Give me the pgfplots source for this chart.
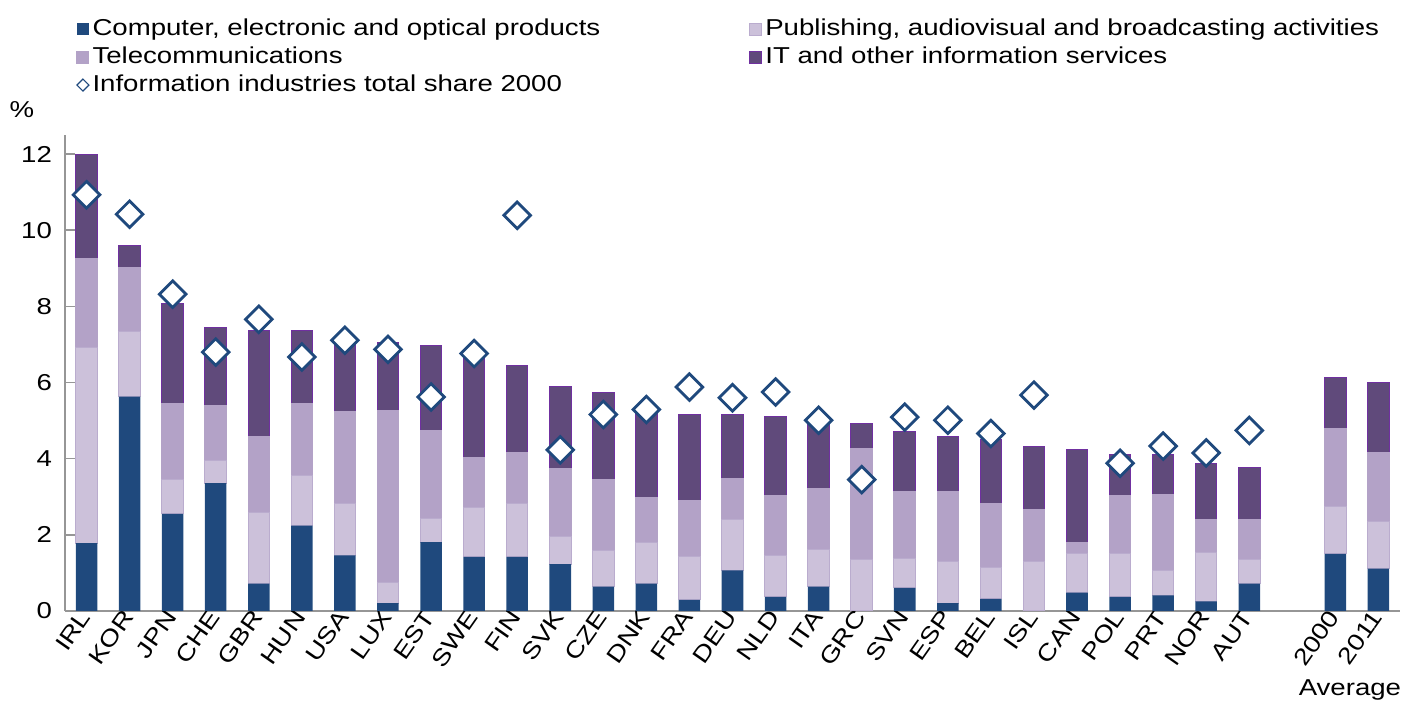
\documentclass[border=0pt]{standalone}
\usepackage{fontspec}
\setmainfont{Liberation Sans}[FakeStretch=1.2]
\usepackage{pgfplots}
\pgfplotsset{compat=1.18}
\usepackage{pgfplotstable}

\definecolor{comp}{RGB}{31,73,125}
\definecolor{publ}{RGB}{204,193,218}
\definecolor{publedge}{RGB}{186,172,206}
\definecolor{tele}{RGB}{179,162,199}
\definecolor{itsv}{RGB}{96,74,123}
\definecolor{itedge}{RGB}{112,48,160}
\definecolor{axgray}{RGB}{150,150,150}

% x comp = computer/electronic, pub = publishing, tel = telecom, it = IT services, d2000 = total 2000
\pgfplotstableread{
x  comp pub  tel  it   d2000
0  1.78 5.13 2.35 2.72 10.93
1  5.63 1.72 1.68 0.57 10.42
2  2.55 0.90 1.99 2.64 8.32
3  3.36 0.59 1.44 2.06 6.80
4  0.72 1.87 2.00 2.78 7.66
5  2.24 1.32 1.90 1.91 6.67
6  1.46 1.36 2.42 1.81 7.11
7  0.21 0.54 4.52 1.79 6.87
8  1.81 0.63 2.29 2.23 5.62
9  1.42 1.29 1.33 2.66 6.76
10 1.42 1.40 1.34 2.28 10.39
11 1.23 0.73 1.77 2.16 4.23
12 0.64 0.94 1.87 2.29 5.16
13 0.72 1.09 1.17 2.22 5.29
14 0.29 1.13 1.48 2.25 5.88
15 1.07 1.32 1.10 1.66 5.60
16 0.37 1.09 1.56 2.09 5.75
17 0.64 0.97 1.60 1.76 5.01
18 0.00 1.34 2.92 0.66 3.45
19 0.61 0.77 1.76 1.58 5.09
20 0.21 1.09 1.84 1.43 5.01
21 0.32 0.83 1.67 1.68 4.66
22 0.00 1.30 1.37 1.66 5.67
23 0.48 1.02 0.31 2.44 nan
24 0.37 1.13 1.52 1.08 3.88
25 0.41 0.66 1.99 1.04 4.33
26 0.25 1.29 0.85 1.49 4.15
27 0.72 0.62 1.05 1.39 4.74
29 1.50 1.25 2.03 1.35 nan
30 1.11 1.25 1.80 1.85 nan
}\shares

\newcommand\lblfont{\fontsize{11.5}{13}\selectfont}

\pgfplotsset{
  base/.style={
    scale only axis, width=667.5pt, height=238pt,
    xmin=-0.5, xmax=30.5, ymin=0, ymax=12.5,
    clip=false,
  },
  sq legend/.style={legend image code/.code={\fill[##1] (0pt,-3pt) rectangle (6pt,3pt);}},
}

\begin{document}
\begin{tikzpicture}
\useasboundingbox (-32.5pt,-45.5pt) rectangle (670pt,305.5pt);
\begin{axis}[
  base,
  ybar stacked, bar width=0.5,
  axis x line*=bottom, axis y line*=left,
  axis line style={axgray, line width=0.7pt, -},
  ytick={0,2,...,12},
  xtick={0,...,27,29,30},
  xticklabels={IRL,KOR,JPN,CHE,GBR,HUN,USA,LUX,EST,SWE,FIN,SVK,CZE,DNK,FRA,DEU,NLD,ITA,GRC,SVN,ESP,BEL,ISL,CAN,POL,PRT,NOR,AUT,2000,2011},
  tick label style={font=\lblfont},
  /pgf/number format/assume math mode=true,
  xtick style={draw=none},
  ytick style={axgray, line width=0.7pt},
  tick align=inside, major tick length=5pt,
  xticklabel style={rotate=55, anchor=east, inner sep=1pt},
  yticklabel style={anchor=east, xshift=-3pt},
  legend columns=2,
  legend cell align=left,
  legend style={at={(rel axis cs:0.0037,1.256)}, anchor=north west, draw=none, fill=none,
    font=\lblfont, row sep=2.5pt,
    nodes={inner xsep=1.5pt, inner ysep=0pt, text height=9pt, text depth=2.5pt},
    /tikz/every even column/.append style={column sep=73pt}},
]
\addplot[fill=comp, draw=none, sq legend] table[x=x, y=comp] {\shares};
\addlegendentry{Computer, electronic and optical products}
\addplot[fill=publ, draw=publedge, line width=0.5pt, sq legend] table[x=x, y=pub] {\shares};
\addlegendentry{Publishing, audiovisual and broadcasting activities}
\addplot[fill=tele, draw=tele, line width=0.5pt, sq legend] table[x=x, y=tel] {\shares};
\addlegendentry{Telecommunications}
\addplot[fill=itsv, draw=itedge, line width=0.5pt, sq legend] table[x=x, y=it] {\shares};
\addlegendentry{IT and other information services}
\addlegendimage{legend image code/.code={\draw[comp, line width=0.6pt, fill=white] (0pt,0pt) -- (3pt,3pt) -- (6pt,0pt) -- (3pt,-3pt) -- cycle;}}
\addlegendentry{Information industries total share 2000}
\node[font=\lblfont] at (rel axis cs:0.9625,0) [yshift=-39.5pt] {Average};
\node[font=\lblfont] at (rel axis cs:0,1) [xshift=-21.5pt, yshift=12.5pt] {\%};
\end{axis}
\begin{axis}[base, hide axis]
\addplot[only marks, mark=square*, mark size=4.7pt,
  mark options={rotate=45, draw=comp, fill=white, line width=1.4pt}]
  table[x=x, y=d2000] {\shares};
\end{axis}
\end{tikzpicture}
\end{document}
